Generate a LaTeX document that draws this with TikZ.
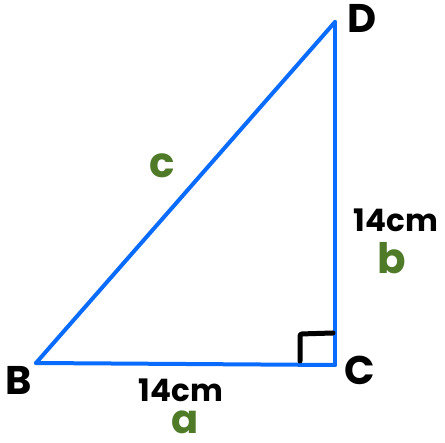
\documentclass[tikz,border=0pt]{standalone}
\usepackage{fontspec}
\setmainfont{Poppins}
\definecolor{lineblue}{HTML}{0A6CFF}
\definecolor{labgreen}{HTML}{4F7A28}
\tikzset{
  side/.style={draw=lineblue, line width=4pt, line cap=round, line join=round},
  rmark/.style={draw=black, line width=5pt, line cap=round, line join=round, rounded corners=2pt},
  vlabel/.style={inner sep=0pt, text=black, font=\bfseries\fontsize{40}{40}\selectfont},
  meas/.style={inner sep=0pt, text=black, font=\bfseries\fontsize{31}{31}\selectfont},
  glabel/.style={inner sep=0pt, text=labgreen, font=\bfseries\fontsize{42}{42}\selectfont},
}
\begin{document}
\begin{tikzpicture}[x=1pt,y=-1pt]
\useasboundingbox (0,0) rectangle (445,443);
\coordinate (B) at (36,363);
\coordinate (C) at (335,365);
\coordinate (D) at (335,22);
\coordinate (m1) at (300,361);
\coordinate (m2) at (300,334);
\coordinate (m3) at (333,333);
\draw[side] (B) -- (C);
\draw[side] (C) -- (D);
\draw[side] (D) -- (B);
\draw[rmark] (m1) -- (m2) -- (m3);
\node[vlabel] (lD) at (362,18) {D};
\node[vlabel] (lB) at (19,380) {B};
\node[vlabel] (lC) at (360,370) {C};
\node[meas] (mBC) at (181,390) {14cm};
\node[meas] (mCD) at (396,220) {14cm};
\node[glabel, font=\bfseries\fontsize{40}{40}\selectfont] (ga) at (185,422) {a};
\node[glabel] (gb) at (392,258) {b};
\node[glabel] (gc) at (162,166) {c};
\end{tikzpicture}
\end{document}
